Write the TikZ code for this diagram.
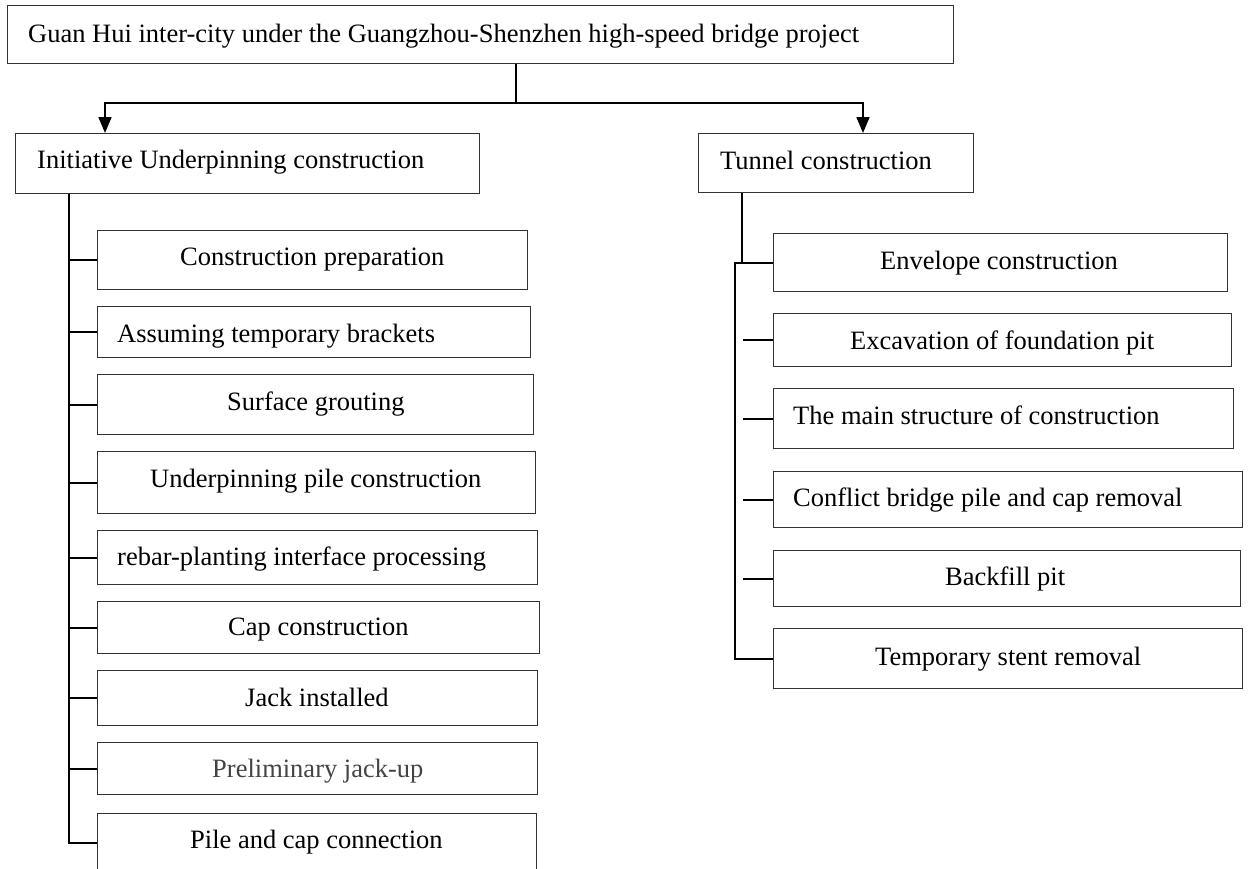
\documentclass[tikz,border=0pt]{standalone}
\usepackage{fontspec}
\setmainfont{Liberation Serif}
\usetikzlibrary{arrows.meta,calc}
\definecolor{boxline}{HTML}{333333}
\definecolor{greytext}{HTML}{444444}
\tikzset{
  box/.style={draw=boxline, line width=1.3pt, inner sep=0pt, anchor=north west},
  lbl/.style={anchor=base west, inner sep=0pt, font=\fontsize{26.5}{31}\selectfont},
  conn/.style={draw=black, line width=1.7pt},
  arr/.style={conn, -{Triangle[width=13pt,length=16pt]}},
}
% \mybx{name}{x1}{y1}{x2}{y2}{text x}{baseline y}{text}
\newcommand\mybx[8]{%
  \node[box, minimum width=#4pt-#2pt, minimum height=#5pt-#3pt] (#1) at (#2,-#3) {};
  \node[lbl] (#1-t) at (#6,-#7) {#8};
}
\begin{document}
\begin{tikzpicture}[x=1pt,y=1pt]
\useasboundingbox (0,0) rectangle (1248,-868);
\fill[white] (0,0) rectangle (1248,-868);

% top and second level
\mybx{top}{7}{5}{953}{63}{28}{42}{Guan Hui inter-city under the Guangzhou-Shenzhen high-speed bridge project}
\mybx{ini}{15}{133}{479}{193}{37}{168}{Initiative Underpinning construction}
\mybx{tun}{698}{133}{973}{192}{720}{169}{Tunnel construction}

% left column
\mybx{l1}{97}{230}{527}{289}{180}{265}{Construction preparation}
\mybx{l2}{97}{306}{530}{357}{117}{342}{Assuming temporary brackets}
\mybx{l3}{97}{374}{533}{434}{227}{410}{Surface grouting}
\mybx{l4}{97}{451}{535}{513}{150}{487}{Underpinning pile construction}
\mybx{l5}{97}{530}{537}{584}{117}{565}{rebar-planting interface processing}
\mybx{l6}{97}{601}{539}{653}{228}{635}{Cap construction}
\mybx{l7}{97}{670}{537}{725}{245}{706}{Jack installed}
\mybx{l8}{97}{742}{537}{794}{212}{777}{\textcolor{greytext}{Preliminary jack-up}}
\mybx{l9}{97}{813}{536}{871}{190}{848}{Pile and cap connection}

% right column
\mybx{r1}{773}{233}{1227}{291}{880}{269}{Envelope construction}
\mybx{r2}{773}{313}{1231}{366}{850}{349}{Excavation of foundation pit}
\mybx{r3}{773}{388}{1233}{448}{793}{424}{The main structure of construction}
\mybx{r4}{773}{471}{1242}{527}{793}{506}{Conflict bridge pile and cap removal}
\mybx{r5}{773}{550}{1240}{606}{945}{585}{Backfill pit}
\mybx{r6}{773}{628}{1242}{688}{875}{665}{Temporary stent removal}

% top connectors
\coordinate (j) at (516,-103);
\coordinate (ja) at (105,-103);
\coordinate (jb) at (863,-103);
\draw[conn] (top.south -| j) -- (j);
\draw[arr] (j) -- (ja) -- (ini.north -| ja);
\draw[arr] (j) -- (jb) -- (tun.north -| jb);

% left spine
\coordinate (ls) at (69,0);
\draw[conn] (ini.south -| ls) -- (l9.west -| ls) -- (l9.west);
\foreach \n in {l1,l2,l3,l4,l5,l6,l7,l8}{
  \draw[conn] (\n.west -| ls) -- (\n.west);
}

% right spine
\coordinate (rs) at (742,0);
\coordinate (rv) at (735,0);
\coordinate (rstub) at (743,0);
\draw[conn] (tun.south -| rs) -- (r1.west -| rs);
\draw[conn] (r1.west) -- (r1.west -| rv) -- (r6.west -| rv) -- (r6.west);
\foreach \n in {r2,r3,r4,r5}{
  \draw[conn] (\n.west -| rstub) -- (\n.west);
}
\end{tikzpicture}
\end{document}
